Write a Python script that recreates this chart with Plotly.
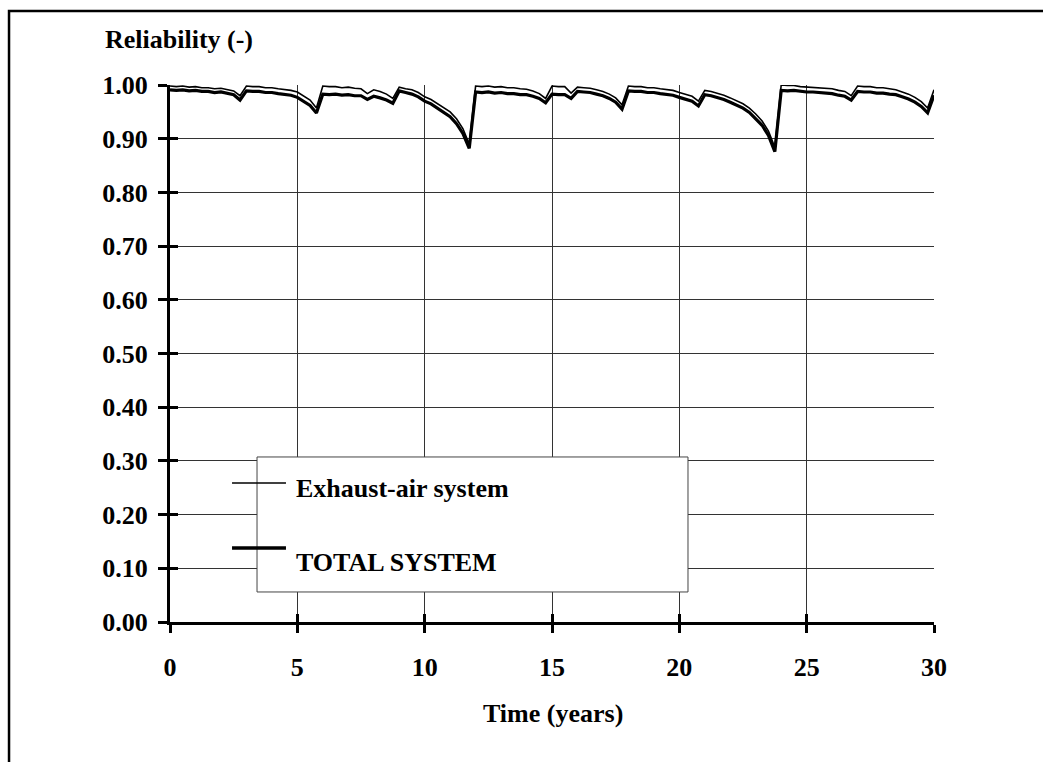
import plotly.graph_objects as go

# Time in years (quarterly samples)
time_years = [i * 0.25 for i in range(121)]

# Reliability of the exhaust-air system (thin line)
exhaust_air = [
    0.998, 0.997, 0.998, 0.996, 0.997, 0.995, 0.995, 0.993, 0.994, 0.991, 0.989, 0.980, 0.998,
    0.997, 0.997, 0.995, 0.995, 0.993, 0.992, 0.990, 0.987, 0.980, 0.972, 0.957, 0.998,
    0.997, 0.997, 0.995, 0.996, 0.994, 0.993, 0.984, 0.991, 0.988, 0.983, 0.975, 0.996,
    0.993, 0.991, 0.986, 0.978, 0.973, 0.965, 0.958, 0.950, 0.937, 0.919, 0.890, 0.998,
    0.997, 0.998, 0.996, 0.997, 0.995, 0.995, 0.993, 0.992, 0.989, 0.984, 0.975, 0.998,
    0.997, 0.997, 0.985, 0.996, 0.995, 0.994, 0.991, 0.988, 0.983, 0.976, 0.963, 0.998,
    0.997, 0.997, 0.995, 0.995, 0.993, 0.992, 0.990, 0.986, 0.982, 0.979, 0.970, 0.990,
    0.988, 0.985, 0.981, 0.976, 0.971, 0.965, 0.957, 0.946, 0.933, 0.914, 0.884, 1.000,
    0.999, 0.999, 0.997, 0.996, 0.996, 0.995, 0.993, 0.993, 0.990, 0.988, 0.980, 0.998,
    0.997, 0.997, 0.995, 0.995, 0.993, 0.991, 0.987, 0.983, 0.977, 0.969, 0.957, 0.991,
]

# Reliability of the total system (thick line)
total_system = [
    0.991, 0.990, 0.991, 0.989, 0.990, 0.988, 0.988, 0.986, 0.987, 0.984, 0.982, 0.972, 0.989,
    0.988, 0.988, 0.986, 0.986, 0.984, 0.983, 0.981, 0.977, 0.970, 0.962, 0.948, 0.983,
    0.982, 0.983, 0.981, 0.982, 0.980, 0.980, 0.973, 0.979, 0.976, 0.972, 0.966, 0.989,
    0.986, 0.983, 0.978, 0.970, 0.965, 0.957, 0.950, 0.941, 0.928, 0.910, 0.882, 0.987,
    0.986, 0.987, 0.985, 0.986, 0.984, 0.984, 0.982, 0.982, 0.979, 0.975, 0.967, 0.983,
    0.982, 0.982, 0.975, 0.988, 0.987, 0.986, 0.983, 0.980, 0.975, 0.968, 0.955, 0.989,
    0.988, 0.988, 0.986, 0.986, 0.984, 0.983, 0.981, 0.977, 0.973, 0.970, 0.961, 0.982,
    0.980, 0.977, 0.973, 0.968, 0.963, 0.957, 0.949, 0.938, 0.925, 0.906, 0.876, 0.990,
    0.989, 0.990, 0.988, 0.987, 0.987, 0.986, 0.984, 0.984, 0.981, 0.979, 0.972, 0.988,
    0.987, 0.987, 0.985, 0.985, 0.983, 0.982, 0.978, 0.974, 0.968, 0.960, 0.948, 0.981,
]

x_ticks = [0, 5, 10, 15, 20, 25, 30]
y_ticks = [0.0, 0.1, 0.2, 0.3, 0.4, 0.5, 0.6, 0.7, 0.8, 0.9, 1.0]

series_names = ["Exhaust-air system", "TOTAL SYSTEM"]
y_title = "Reliability (-)"
x_title = "Time (years)"

FONT = "Liberation Serif, Times New Roman, serif"
FS = 26

fig = go.Figure()
fig.add_trace(go.Scatter(x=time_years, y=exhaust_air, mode="lines", name=series_names[0],
                         line=dict(color="black", width=1.6), showlegend=False))
fig.add_trace(go.Scatter(x=time_years, y=total_system, mode="lines", name=series_names[1],
                         line=dict(color="black", width=3.2), showlegend=False))
# helper trace so the overlay (inner tick) axes are drawn
fig.add_trace(go.Scatter(x=[None], y=[None], xaxis="x2", yaxis="y2", showlegend=False,
                         hoverinfo="skip"))

axis_font = dict(family=FONT, size=FS, color="black", weight="bold")

fig.update_layout(
    width=1043, height=762,
    margin=dict(l=170, r=109, t=85, b=140),
    paper_bgcolor="white", plot_bgcolor="white",
    font=dict(family=FONT, size=FS, color="black"),
    xaxis=dict(range=[0, 30], tickvals=x_ticks, ticktext=[str(v) for v in x_ticks],
               showgrid=True, gridcolor="#333", gridwidth=1,
               showline=True, linecolor="black", linewidth=3,
               ticks="outside", ticklen=8, tickwidth=3, tickcolor="black",
               tickfont=axis_font, ticklabelstandoff=12, zeroline=False),
    yaxis=dict(range=[0, 1.0], tickvals=y_ticks, tickformat=".2f",
               showgrid=True, gridcolor="#333", gridwidth=1,
               showline=True, linecolor="black", linewidth=3,
               ticks="outside", ticklen=9, tickwidth=3, tickcolor="black",
               tickfont=axis_font, ticklabelstandoff=5, zeroline=False),
    xaxis2=dict(range=[0, 30], tickvals=x_ticks, overlaying="x", anchor="y",
                showgrid=False, showline=False, showticklabels=False,
                ticks="inside", ticklen=8, tickwidth=3, tickcolor="black", zeroline=False),
    yaxis2=dict(range=[0, 1.0], tickvals=y_ticks, overlaying="y", anchor="x",
                showgrid=False, showline=False, showticklabels=False,
                ticks="inside", ticklen=8, tickwidth=3, tickcolor="black", zeroline=False),
)

# axis titles
fig.add_annotation(text=f"<b>{y_title}</b>", xref="paper", yref="paper", x=-0.0877, y=1.0838,
                   xanchor="left", yanchor="middle", showarrow=False,
                   font=dict(family=FONT, size=FS, color="black"))
fig.add_annotation(text=f"<b>{x_title}</b>", xref="paper", yref="paper", x=0.5013, y=-0.1695,
                   xanchor="center", yanchor="middle", showarrow=False,
                   font=dict(family=FONT, size=FS, color="black"))

# legend box
fig.add_shape(type="rect", xref="paper", yref="paper", x0=0.1139, x1=0.678, y0=0.0559, y1=0.3073,
              fillcolor="white", line=dict(color="#444", width=1), layer="above")
fig.add_shape(type="line", xref="paper", yref="paper", x0=0.0812, x1=0.1518, y0=0.2588, y1=0.2588,
              line=dict(color="black", width=1.5), layer="above")
fig.add_shape(type="line", xref="paper", yref="paper", x0=0.0812, x1=0.1518, y0=0.1378, y1=0.1378,
              line=dict(color="black", width=3.5), layer="above")
fig.add_annotation(text=f"<b>{series_names[0]}</b>", xref="paper", yref="paper", x=0.1623, y=0.2495,
                   xanchor="left", yanchor="middle", showarrow=False,
                   font=dict(family=FONT, size=FS, color="black"))
fig.add_annotation(text=f"<b>{series_names[1]}</b>", xref="paper", yref="paper", x=0.1623, y=0.110,
                   xanchor="left", yanchor="middle", showarrow=False,
                   font=dict(family=FONT, size=FS, color="black"))

# outer frame (left and top edges)
fig.add_shape(type="path", xref="paper", yref="paper",
              path="M -0.2107,-0.30 L -0.2107,1.1378 L 1.16,1.1378",
              line=dict(color="black", width=2.5), layer="above")

fig.write_html("out.html")
